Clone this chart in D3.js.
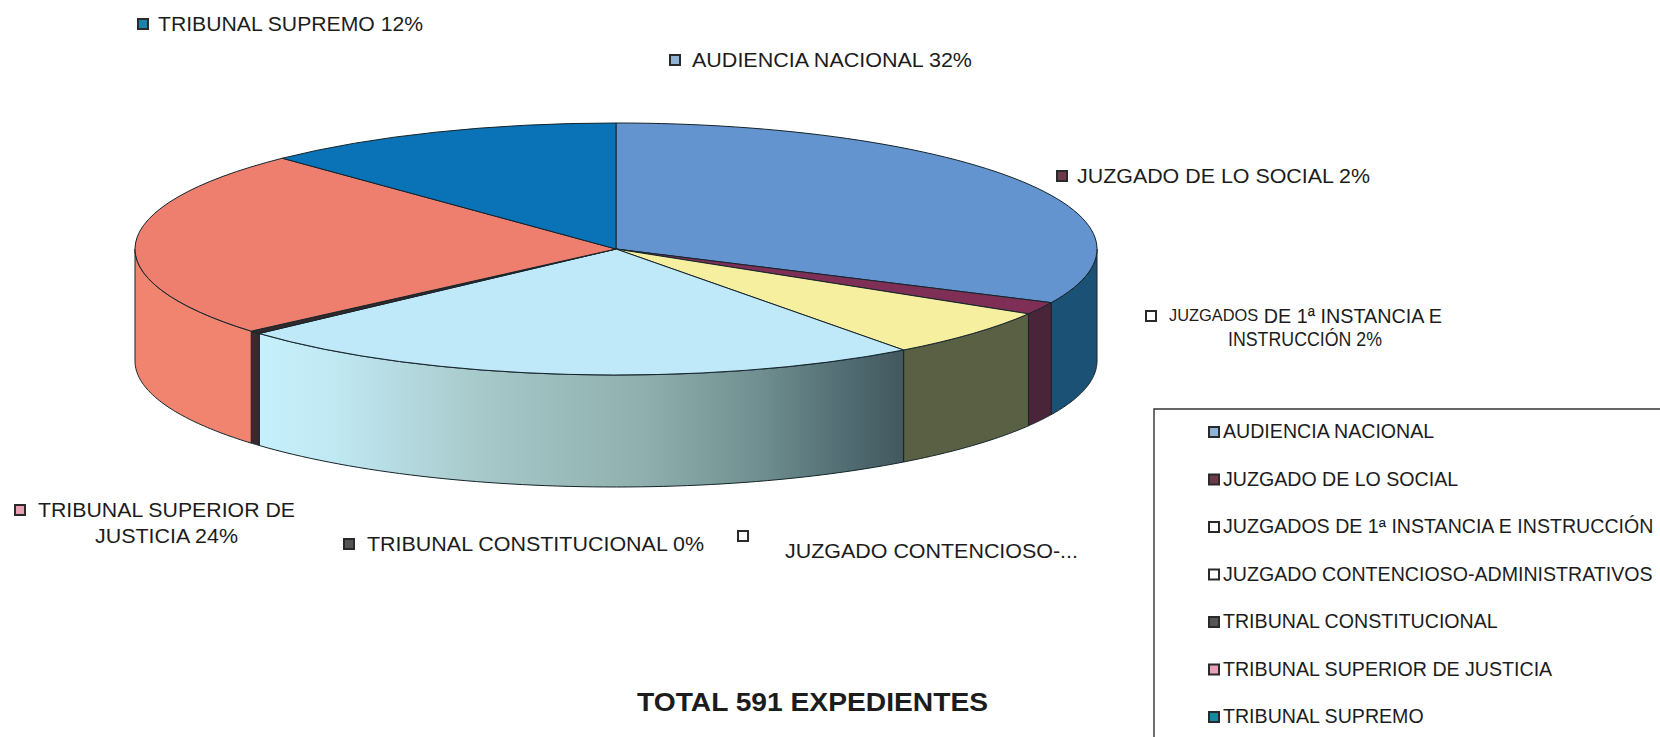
<!DOCTYPE html>
<html><head><meta charset="utf-8">
<script src="https://cdn.jsdelivr.net/npm/d3@7"></script>
<style>html,body{margin:0;background:#fff}svg{display:block}text{font-family:"Liberation Sans",Arial,sans-serif;fill:#1c1c1c}</style>
</head><body><svg id="c" width="1660" height="737"></svg>
<script>
// DATA
const categories=["AUDIENCIA NACIONAL","JUZGADO DE LO SOCIAL","JUZGADOS DE 1ª INSTANCIA E INSTRUCCIÓN","JUZGADO CONTENCIOSO-ADMINISTRATIVOS","TRIBUNAL CONSTITUCIONAL","TRIBUNAL SUPERIOR DE JUSTICIA","TRIBUNAL SUPREMO"];
const values=[32,1.6,6.2,23.5,0.4,24.1,12.2];
const totalLabel="TOTAL 591 EXPEDIENTES";
const topColors=["#6494d0","#7f2f55","#f6efa0","#bfe8f9","#33282a","#ee7f6f","#0a72b6"];
const sideColors=["#1b5175","#4a2438","#596044","url(#sideGrad)","#3a2a30","#f0846f","#0a5a8c"];
const swatchColors=["#8db4d6","#6b3a4c","#ffffff","#ffffff","#555555","#e9a0b5","#1787a8"];

// LAYOUT
const W=1660,H=737,cx=616,cy=249,rx=481,ry=126,depth=112;
const svg=d3.select("#c");
svg.append("rect").attr("width",W).attr("height",H).attr("fill","#fff");
const defs=svg.append("defs");
const grad=defs.append("linearGradient").attr("id","sideGrad");
[[0,"#c6f0fc"],[.12,"#c0e8f2"],[.35,"#a6c8c8"],[.6,"#8fafae"],[.78,"#6f8e8f"],[.92,"#4f6a70"],[1,"#43585f"]]
 .forEach(s=>grad.append("stop").attr("offset",s[0]).attr("stop-color",s[1]));

const pie=d3.pie().sort(null).value(d=>d)(values);
const ex=a=>cx+rx*Math.sin(a), ey=a=>cy-ry*Math.cos(a);
const sideLine=d3.line();
const sides=svg.append("g");

// sides (only the front half of the disc, 90°–270° clockwise from top)
pie.forEach((p,i)=>{
  const a0=Math.max(p.startAngle,Math.PI/2),a1=Math.min(p.endAngle,Math.PI*1.5);
  if(a1<=a0)return;
  const ts=d3.range(0,61).map(k=>a0+(a1-a0)*k/60);
  const pts=ts.map(a=>[ex(a),ey(a)]).concat(ts.slice().reverse().map(a=>[ex(a),ey(a)+depth]));
  sides.append("path").attr("d",sideLine(pts)+"Z").attr("fill",sideColors[i])
   .attr("stroke","#14242a").attr("stroke-width",1).attr("stroke-linejoin","round");
});
// top face: d3.arc drawn on a squashed group
const arc=d3.arc().innerRadius(0).outerRadius(rx);
const topFace=svg.append("g").attr("transform",`translate(${cx},${cy}) scale(1,${ry/rx})`);
topFace.selectAll("path").data(pie).join("path").attr("d",arc).attr("fill",(d,i)=>topColors[i])
  .attr("stroke","#14242a").attr("stroke-width",1).attr("vector-effect","non-scaling-stroke");

// swatch helper
function swatch(x,y,i,s=10){
  svg.append("rect").attr("x",x-s/2).attr("y",y-s/2).attr("width",s).attr("height",s)
   .attr("fill",swatchColors[i]).attr("stroke","#2a2a2a").attr("stroke-width",2);
}
function label(x,y,t,len,size=20.5,weight="normal"){
  const el=svg.append("text").attr("x",x).attr("y",y-1).attr("font-size",size).attr("font-weight",weight)
    .attr("dominant-baseline","central").text(t);
  if(len)el.attr("textLength",len).attr("lengthAdjust","spacingAndGlyphs");
  return el;
}
// data labels
const pct=["32%","2%","2%",null,"0%","24%","12%"];
swatch(143,24,6); label(158,24,`${categories[6]} ${pct[6]}`,265);
swatch(675,60,0); label(692,60,`${categories[0]} ${pct[0]}`,280);
swatch(1062,176,1); label(1077,176,`${categories[1]} ${pct[1]}`,293);
swatch(1151,316,2);
const l2=svg.append("text").attr("x",1169).attr("y",315).attr("dominant-baseline","central").attr("font-size",20.5).attr("textLength",273).attr("lengthAdjust","spacingAndGlyphs");
l2.append("tspan").attr("font-size",17).text("JUZGADOS");
l2.append("tspan").text(" DE 1ª INSTANCIA E");
label(1228,339,`INSTRUCCIÓN ${pct[2]}`,154);
swatch(20,510,5); label(38,510,"TRIBUNAL SUPERIOR DE",257); label(95,536,`JUSTICIA ${pct[5]}`,143);
swatch(349,544,4); label(367,544,`${categories[4]} ${pct[4]}`,337);
swatch(743,536,3); label(785,551,"JUZGADO CONTENCIOSO-...",293);
label(637,703,totalLabel,351,26,"bold");

// legend box
svg.append("path").attr("d",d3.line()([[1154,737],[1154,409],[1660,409]])).attr("fill","none").attr("stroke","#333").attr("stroke-width",1.4);
const rowY=d3.scalePoint().domain(categories).range([432,717]);
categories.forEach((c,i)=>{swatch(1214,rowY(c),i);label(1223,rowY(c),c,null,19.6);});
</script></body></html>
